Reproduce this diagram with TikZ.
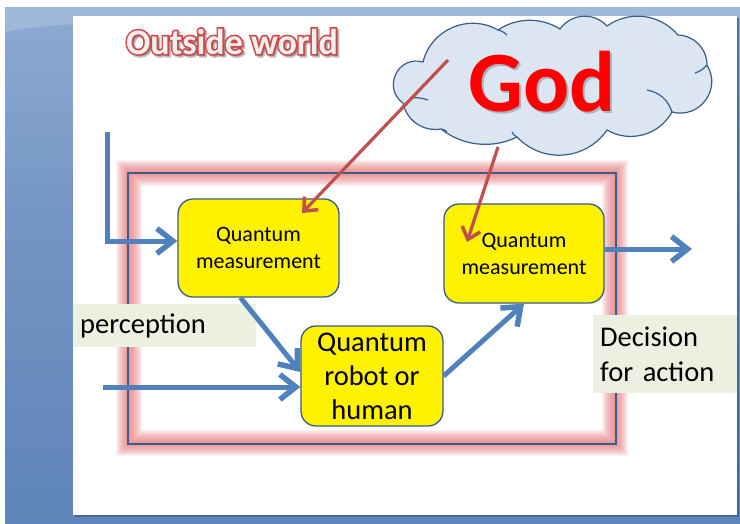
\documentclass[tikz,border=0pt]{standalone}
\usepackage{fontspec}
\setmainfont{Carlito}
\newfontfamily\outlinefam{Carlito}[BoldFeatures={FakeBold=9}]
\usetikzlibrary{arrows.meta}
\definecolor{bluearrow}{HTML}{4F81BD}
\definecolor{redarrow}{HTML}{C0504D}
\definecolor{boxline}{HTML}{385D8A}
\definecolor{cloudfill}{HTML}{DCE6F2}
\definecolor{labelfill}{HTML}{EBF0E1}
\definecolor{glowcol}{HTML}{E87070}
\definecolor{titlered}{HTML}{D04848}
\definecolor{titlefill}{HTML}{F0F0F0}
\definecolor{godred}{HTML}{FF0000}
\definecolor{bgA}{HTML}{AAC4E6}
\definecolor{bgB}{HTML}{7596C4}
\definecolor{bgC}{HTML}{5A80B6}
\definecolor{bgD}{HTML}{6690C8}
\definecolor{slideshadow}{HTML}{3B5B88}
\pgfdeclareverticalshading{bgshade}{100bp}{color(0bp)=(bgD); color(18bp)=(bgC); color(55bp)=(bgB); color(100bp)=(bgA)}
\begin{document}
\begin{tikzpicture}[x=1pt,y=-1pt,
  qbox/.style={draw=boxline, line width=1.3pt, fill=yellow, rounded corners=15pt, align=center, inner sep=0pt},
  labelbox/.style={fill=labelfill, inner xsep=7pt, inner ysep=0pt, align=left, anchor=north west},
  barrow/.style={draw=bluearrow, line width=5pt, -{Straight Barb[length=16pt,width=25pt,line width=5.5pt]}},
  rarrow/.style={draw=redarrow, line width=3.2pt, -{Straight Barb[length=11pt,width=19pt,line width=3.5pt]}},
  cloudline/.style={draw=boxline, line width=1.2pt},
  titlefont/.style={font=\fontsize{36}{40}\selectfont\outlinefam\bfseries, anchor=base},
]
\useasboundingbox (0,0) rectangle (740,523);
% background
\fill[white] (0,0) rectangle (740,523);
\shade[shading=bgshade] (5,7) rectangle (740,523);
\fill[white, opacity=.18] (5,7) -- (740,7) -- (740,16) -- (300,16) .. controls (150,18) and (40,24) .. (5,32) -- cycle;
% slide
\fill[slideshadow, opacity=.7] (74.5,17.5) rectangle (738.5,516.5);
\fill[white] (73,16) rectangle (737,515);
% glow frame
\foreach \w in {26,24,...,4}{
  \draw[glowcol, line width=\w pt, opacity=0.09] (129,173) rectangle (615,443);
}
\node[draw=boxline, line width=1.2pt, minimum width=488, minimum height=271, inner sep=0pt] (frame) at (372,308.5) {};
% title: shadow, red outline, light fill
\node[titlefont, text=black, opacity=.25] (titleshadow) at (234,56) {Outside world};
\node[titlefont, text=titlered] (titleline) at (232,54) {Outside world};
\node[font=\fontsize{36}{40}\selectfont\bfseries, anchor=base, text=titlefill] (title) at (232,54) {Outside world};
% boxes
\node[qbox, minimum width=161, minimum height=98, font=\fontsize{22}{27}\selectfont] (qm1) at (258.5,248) {Quantum\\measurement};
\node[qbox, minimum width=160, minimum height=99, font=\fontsize{22}{27}\selectfont] (qm2) at (524,253.5) {Quantum\\measurement};
\node[qbox, minimum width=142, minimum height=100, font=\fontsize{28.5}{34}\selectfont] (robot) at (372,376) {Quantum\\robot or\\human};
% labels
\node[labelbox, minimum width=183, minimum height=43, text width=169, font=\fontsize{28.5}{34}\selectfont] (perc) at (73,304) {perception};
\node[labelbox, minimum width=144, minimum height=78, text width=130, font=\fontsize{28.5}{35}\selectfont] (decision) at (593,315) {Decision\\for action};
% cloud
\filldraw[fill=cloudfill, cloudline]
 (403,103) to[bend left=80, looseness=1.45] (423,62)
 to[bend left=53, looseness=1.06] (498,30)
 to[bend left=33, looseness=0.93] (560,29)
 to[bend left=51, looseness=1.05] (607,26)
 to[bend left=42] (678,35)
 to[bend left=44] (707,65)
 to[bend left=68, looseness=1.25] (672,112)
 to[bend left=46] (607,130)
 to[bend left=51, looseness=1.05] (517,137)
 to[bend left=32, looseness=0.93] (441,129)
 to[bend left=44] (403,103) -- cycle;
\draw[cloudline] (410,98) to[bend left=12] (428,100);
\draw[cloudline] (647,90) to[bend left=30] (672,112);
\draw[cloudline] (695,73) to[bend right=15] (707,65);
\draw[cloudline] (498,30) to[bend left=15] (507,35);
\draw[cloudline] (517,137) to[bend left=20] (512,132);
\draw[cloudline] (441,129) to[bend left=20] (447,132);
% God
\node[font=\fontsize{86}{90}\selectfont\bfseries, text=black, opacity=.22, anchor=base] (godshadow) at (544.5,113.5) {God};
\node[font=\fontsize{86}{90}\selectfont\bfseries, text=godred, anchor=base] (god) at (542,111) {God};
% red arrows
\coordinate (g1s) at (448,60);
\coordinate (g1e) at (302,213);
\coordinate (g2s) at (498,147);
\coordinate (g2e) at (467,242);
\draw[rarrow] (g1s) -- (g1e);
\draw[rarrow] (g2s) -- (g2e);
% blue arrows
\coordinate (inA) at (107,132);
\coordinate (inB) at (103,387);
\coordinate (outA) at (692,249);
\draw[barrow] (inA) |- ([yshift=7pt]qm1.west);
\draw[barrow] ([xshift=-18pt]qm1.south) -- ([yshift=4pt]robot.west);
\draw[barrow] (inB) -- (inB -| robot.west);
\draw[barrow] (robot.east) -- (qm2.south);
\draw[barrow] (qm2.east |- outA) -- (outA);
\end{tikzpicture}
\end{document}
